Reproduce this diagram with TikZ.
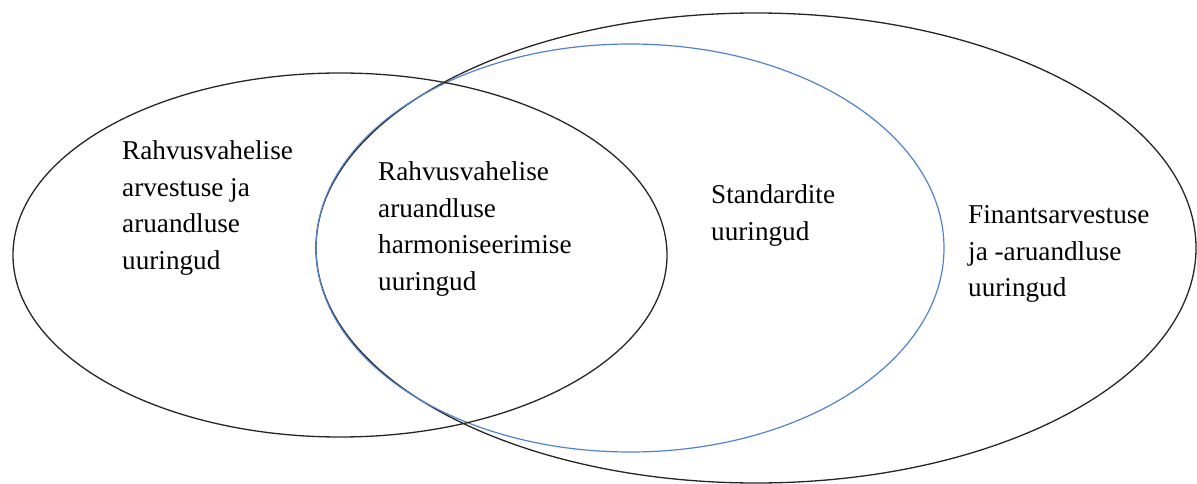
\documentclass[tikz,border=0pt]{standalone}
\usepackage{fontspec}
\setmainfont{Liberation Serif}
\definecolor{wordblue}{RGB}{80,130,205}
\begin{document}
\begin{tikzpicture}[x=1pt,y=-1pt,
  ring/.style={draw=black!85, line width=1.3pt},
  bluering/.style={draw=wordblue, line width=1.2pt},
  lbl/.style={anchor=north west, inner sep=0pt, align=left,
    font=\fontsize{27.2}{36.6}\selectfont, text=black}]
\useasboundingbox (0,0) rectangle (1197,484);
\coordinate (cbig) at (756,248);
\coordinate (cblue) at (630,248);
\coordinate (cleft) at (340,255);
\draw[ring] (cbig) ellipse [x radius=440, y radius=235];
\draw[bluering] (cblue) ellipse [x radius=314, y radius=204];
\draw[ring] (cleft) ellipse [x radius=327, y radius=182];
\node[lbl] (tleft) at (122,140.5) {Rahvusvahelise\\arvestuse ja\\aruandluse\\uuringud};
\node[lbl] (tmid) at (378,161.5) {Rahvusvahelise\\aruandluse\\harmoniseerimise\\uuringud};
\node[lbl] (tstd) at (711,184.5) {Standardite\\uuringud};
\node[lbl] (tfin) at (968,205.5) {Finantsarvestuse\\ja -aruandluse\\uuringud};
\end{tikzpicture}
\end{document}
